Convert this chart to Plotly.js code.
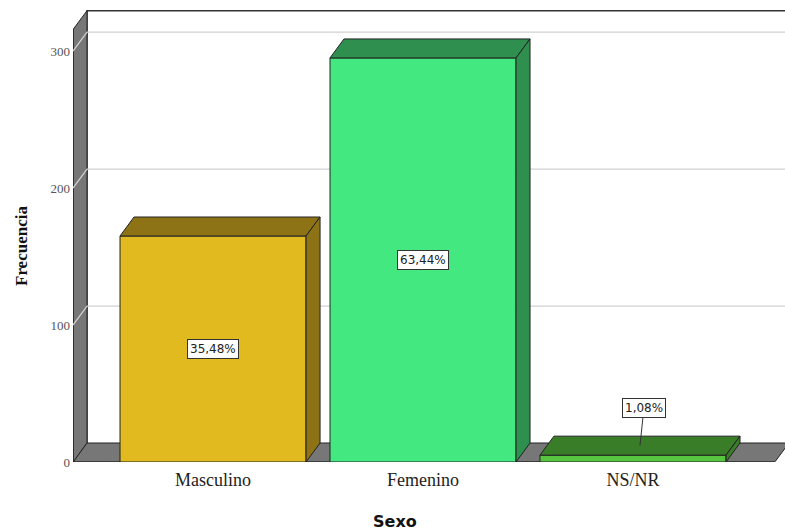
<!DOCTYPE html>
<html>
<head>
<meta charset="utf-8">
<script src="https://cdn.plot.ly/plotly-3.0.1.min.js"></script>
<style>html,body{margin:0;padding:0;background:#fff;}#chart{width:785px;height:531px;}</style>
</head>
<body>
<div id="chart"></div>
<script>
// ---- data ----
const categories = ['Masculino', 'Femenino', 'NS/NR'];
const counts = [165, 295, 5];
const percentLabels = ['35,48%', '63,44%', '1,08%'];
const yTickValues = [0, 100, 200, 300];
const yTickLabels = ['0', '100', '200', '300'];
const frontColors = ['#E0BA1F', '#43E980', '#58C540'];
const sideColors = ['#8E7316', '#2E8F4F', '#3A7D28'];

// ---- geometry (pixel-based depth converted to axis units) ----
const L = 73, R = 785, T = 10, B = 462;
const yMax = 330;
const xMin = -0.667, xMax = 2.724;
const kY = (B - T) / yMax;
const kX = (R - L) / (xMax - xMin);
const DX = 14 / kX;
const DY = 19 / kY;
const halfW = 0.443;
const xFloorEnd = xMin + (775 - L) / kX;
const wallTop = yMax - DY;

const xs = categories.map((c, i) => i);

const traces = [];
// front faces
traces.push({
  type: 'bar', x: xs, y: counts, width: 2 * halfW,
  marker: {color: frontColors, line: {color: '#222', width: 1}},
  hoverinfo: 'skip', showlegend: false
});
// top and side faces
counts.forEach((v, i) => {
  const c = xs[i];
  traces.push({
    type: 'scatter', mode: 'lines', fill: 'toself', fillcolor: sideColors[i],
    x: [c - halfW, c + halfW, c + halfW + DX, c - halfW + DX, c - halfW],
    y: [v, v, v + DY, v + DY, v],
    line: {color: '#222', width: 1}, hoverinfo: 'skip', showlegend: false
  });
  traces.push({
    type: 'scatter', mode: 'lines', fill: 'toself', fillcolor: sideColors[i],
    x: [c + halfW, c + halfW + DX, c + halfW + DX, c + halfW, c + halfW],
    y: [v, v + DY, DY, 0, v],
    line: {color: '#222', width: 1}, hoverinfo: 'skip', showlegend: false
  });
});

const shapes = [];
// back wall
shapes.push({type: 'path', xref: 'x', yref: 'y', layer: 'below',
  path: `M${xMin + DX},${DY} L${xMin + DX},${yMax - 0.5} L${xMax + 1},${yMax - 0.5}`,
  line: {color: '#333', width: 1.5}});
// left wall
shapes.push({type: 'path', xref: 'x', yref: 'y', layer: 'below',
  path: `M${xMin + 0.002},0 L${xMin + 0.002},${wallTop} L${xMin + DX},${yMax - 0.5} L${xMin + DX},${DY} Z`,
  fillcolor: '#777777', line: {color: '#222', width: 1}});
// floor
shapes.push({type: 'path', xref: 'x', yref: 'y', layer: 'below',
  path: `M${xMin + 0.002},0.2 L${xFloorEnd},0.2 L${xFloorEnd + DX},${DY} L${xMin + DX},${DY} Z`,
  fillcolor: '#777777', line: {color: '#222', width: 1}});
// gridlines on the back wall
yTickValues.slice(1).forEach(v => {
  shapes.push({type: 'path', xref: 'x', yref: 'y', layer: 'below',
    path: `M${xMin},${v} L${xMin + DX},${v + DY} L${xMax + 1},${v + DY}`,
    line: {color: '#d2d2d2', width: 1.2}});
});

const annotations = [];
counts.forEach((v, i) => {
  if (i < 2) {
    annotations.push({x: xs[i], y: v / 2, xref: 'x', yref: 'y', text: percentLabels[i],
      showarrow: false, bgcolor: '#fff', bordercolor: '#333', borderwidth: 1, borderpad: 2,
      font: {family: 'DejaVu Sans', size: 12, color: '#222'}});
  } else {
    annotations.push({x: xs[i] + DX / 2, y: v + DY / 2, xref: 'x', yref: 'y', text: percentLabels[i],
      showarrow: true, arrowhead: 0, arrowwidth: 1, arrowcolor: '#333', ax: 4, ay: -38,
      bgcolor: '#fff', bordercolor: '#333', borderwidth: 1, borderpad: 2,
      font: {family: 'DejaVu Sans', size: 12, color: '#222'}});
  }
});
annotations.push({xref: 'paper', yref: 'paper', x: (395 - L) / (R - L), y: (B - 521) / (B - T),
  xanchor: 'center', yanchor: 'middle', showarrow: false, text: '<b>Sexo</b>',
  font: {family: 'DejaVu Sans', size: 16, color: '#111'}});
annotations.push({xref: 'paper', yref: 'paper', x: (22 - L) / (R - L), y: (B - 246) / (B - T),
  xanchor: 'center', yanchor: 'middle', showarrow: false, text: '<b>Frecuencia</b>', textangle: -90,
  font: {family: 'Liberation Serif', size: 17, color: '#111'}});

const layout = {
  width: 785, height: 531,
  margin: {l: L, r: 785 - R, t: T, b: 531 - B},
  paper_bgcolor: '#fff', plot_bgcolor: 'rgba(0,0,0,0)',
  showlegend: false, hovermode: false,
  xaxis: {range: [xMin, xMax], tickvals: xs, ticktext: categories, showgrid: false, zeroline: false,
    showline: false, ticks: '', ticklabelstandoff: 5,
    tickfont: {family: 'Liberation Serif', size: 18, color: '#222'}},
  yaxis: {range: [0, yMax], tickvals: yTickValues, ticktext: yTickLabels, showgrid: false, zeroline: false,
    showline: false, ticks: '', ticklabelstandoff: 2,
    tickfont: {family: 'Liberation Serif', size: 13, color: '#555'}},
  shapes: shapes,
  annotations: annotations
};

Plotly.newPlot('chart', traces, layout, {displayModeBar: false, staticPlot: true});
</script>
</body>
</html>
